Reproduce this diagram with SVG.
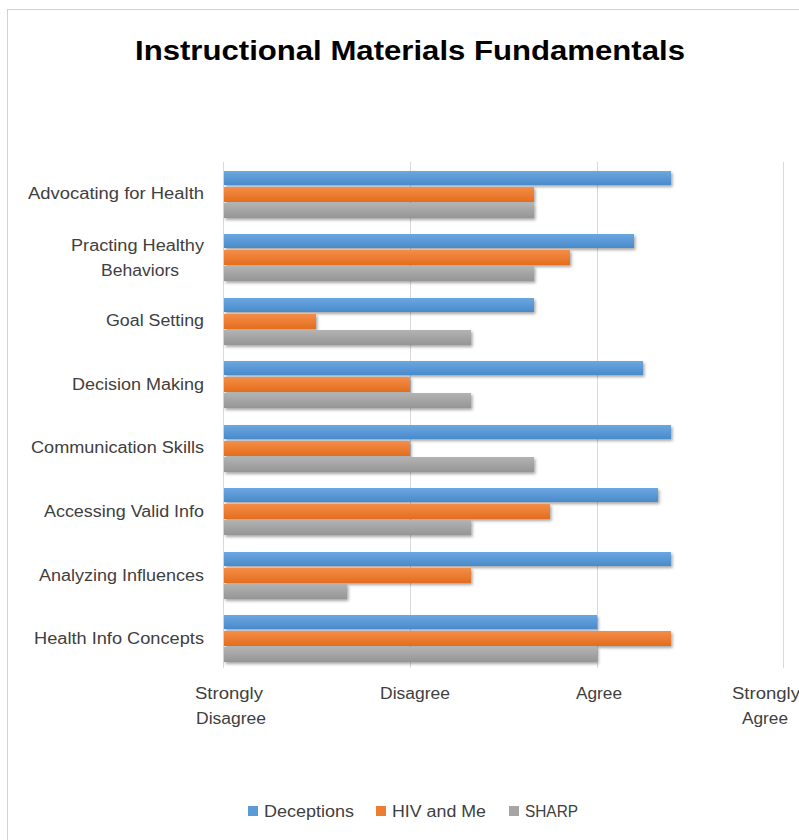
<svg xmlns="http://www.w3.org/2000/svg" width="799" height="840" viewBox="0 0 799 840">
<defs>
<linearGradient id="gb" x1="0" y1="0" x2="0" y2="1"><stop offset="0" stop-color="#6ba7e0"/><stop offset="1" stop-color="#4a8acb"/></linearGradient>
<linearGradient id="go" x1="0" y1="0" x2="0" y2="1"><stop offset="0" stop-color="#f58d48"/><stop offset="1" stop-color="#e36d1e"/></linearGradient>
<linearGradient id="gg" x1="0" y1="0" x2="0" y2="1"><stop offset="0" stop-color="#b3b3b3"/><stop offset="1" stop-color="#959595"/></linearGradient>
<filter id="sh" x="-5%" y="-40%" width="110%" height="200%"><feDropShadow dx="1.5" dy="2" stdDeviation="1.5" flood-color="#000" flood-opacity="0.35"/></filter>
<style>
.lbl{font-family:"Liberation Sans",Arial,sans-serif;font-size:16px;fill:#404040}
.cat{text-anchor:end}
.ax{text-anchor:middle}
.grid{stroke:#d9d9d9;stroke-width:1}
.b{fill:url(#gb);filter:url(#sh)}
.o{fill:url(#go);filter:url(#sh)}
.g{fill:url(#gg);filter:url(#sh)}
</style>
</defs>
<rect x="0" y="0" width="799" height="840" fill="#fff"/>
<rect x="7.5" y="9.5" width="800" height="840" fill="#fff" stroke="#d0d0d0"/>
<text x="410" y="60" text-anchor="middle" font-family="'Liberation Sans',Arial,sans-serif" font-weight="bold" font-size="28" fill="#000" textLength="550" lengthAdjust="spacingAndGlyphs">Instructional Materials Fundamentals</text>
<g id="grid">
<line class="grid" x1="223.5" y1="162" x2="223.5" y2="668"/>
<line class="grid" x1="410.5" y1="162" x2="410.5" y2="668"/>
<line class="grid" x1="597.5" y1="162" x2="597.5" y2="668"/>
<line class="grid" x1="783.5" y1="162" x2="783.5" y2="668"/>
</g>
<g id="bars">
<g id="advocating"><rect class="b" x="224" y="171" width="447" height="14"/><rect class="o" x="224" y="187" width="310" height="15"/><rect class="g" x="224" y="203" width="310" height="15"/></g>
<g id="practing"><rect class="b" x="224" y="234" width="410" height="14"/><rect class="o" x="224" y="250" width="346" height="15"/><rect class="g" x="224" y="266" width="310" height="15"/></g>
<g id="goal"><rect class="b" x="224" y="298" width="310" height="14"/><rect class="o" x="224" y="314" width="92" height="15"/><rect class="g" x="224" y="330" width="247" height="15"/></g>
<g id="decision"><rect class="b" x="224" y="361" width="419" height="14"/><rect class="o" x="224" y="377" width="186" height="15"/><rect class="g" x="224" y="393" width="247" height="15"/></g>
<g id="communication"><rect class="b" x="224" y="425" width="447" height="14"/><rect class="o" x="224" y="441" width="186" height="15"/><rect class="g" x="224" y="457" width="310" height="15"/></g>
<g id="accessing"><rect class="b" x="224" y="488" width="434" height="14"/><rect class="o" x="224" y="504" width="326" height="15"/><rect class="g" x="224" y="520" width="247" height="15"/></g>
<g id="analyzing"><rect class="b" x="224" y="552" width="447" height="14"/><rect class="o" x="224" y="568" width="247" height="15"/><rect class="g" x="224" y="584" width="123" height="15"/></g>
<g id="health"><rect class="b" x="224" y="615" width="373" height="14"/><rect class="o" x="224" y="631" width="447" height="15"/><rect class="g" x="224" y="647" width="373" height="15"/></g>
</g>
<g id="categories">
<text class="lbl cat" x="204" y="199" textLength="176" lengthAdjust="spacingAndGlyphs">Advocating for Health</text>
<text class="lbl cat" x="204" y="251" textLength="133" lengthAdjust="spacingAndGlyphs">Practing Healthy</text>
<text class="lbl ax" x="140" y="276" textLength="78" lengthAdjust="spacingAndGlyphs">Behaviors</text>
<text class="lbl cat" x="204" y="326" textLength="98" lengthAdjust="spacingAndGlyphs">Goal Setting</text>
<text class="lbl cat" x="204" y="390" textLength="132" lengthAdjust="spacingAndGlyphs">Decision Making</text>
<text class="lbl cat" x="204" y="453" textLength="173" lengthAdjust="spacingAndGlyphs">Communication Skills</text>
<text class="lbl cat" x="204" y="517" textLength="160" lengthAdjust="spacingAndGlyphs">Accessing Valid Info</text>
<text class="lbl cat" x="204" y="581" textLength="165" lengthAdjust="spacingAndGlyphs">Analyzing Influences</text>
<text class="lbl cat" x="204" y="644" textLength="170" lengthAdjust="spacingAndGlyphs">Health Info Concepts</text>
</g>
<g id="axis">
<text class="lbl ax" x="229" y="699" textLength="68" lengthAdjust="spacingAndGlyphs">Strongly</text>
<text class="lbl ax" x="231" y="724" textLength="70" lengthAdjust="spacingAndGlyphs">Disagree</text>
<text class="lbl ax" x="415" y="699" textLength="70" lengthAdjust="spacingAndGlyphs">Disagree</text>
<text class="lbl ax" x="599" y="699" textLength="46" lengthAdjust="spacingAndGlyphs">Agree</text>
<text class="lbl ax" x="766" y="699" textLength="68" lengthAdjust="spacingAndGlyphs">Strongly</text>
<text class="lbl ax" x="765" y="724" textLength="46" lengthAdjust="spacingAndGlyphs">Agree</text>
</g>
<g id="legend">
<rect x="248" y="806" width="10" height="10" fill="#5b9bd5"/>
<text class="lbl" x="264" y="817" textLength="90" lengthAdjust="spacingAndGlyphs">Deceptions</text>
<rect x="376" y="806" width="10" height="10" fill="#ed7d31"/>
<text class="lbl" x="392" y="817" textLength="94" lengthAdjust="spacingAndGlyphs">HIV and Me</text>
<rect x="509" y="806" width="10" height="10" fill="#a5a5a5"/>
<text class="lbl" x="525" y="817" textLength="53" lengthAdjust="spacingAndGlyphs">SHARP</text>
</g>
</svg>
